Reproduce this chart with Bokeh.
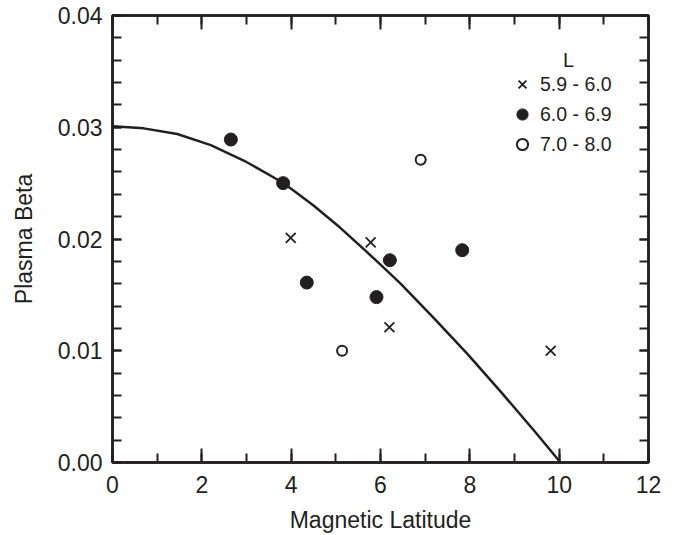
from bokeh.plotting import figure
from bokeh.models import (Range1d, LinearAxis, SingleIntervalTicker, NumeralTickFormatter,
                          Legend, LegendItem, Label)
from bokeh.embed import file_html
from bokeh.resources import INLINE

# ---- data ----
x_low = [3.99, 5.78, 6.20, 9.81]          # L 5.9 - 6.0
y_low = [0.0201, 0.0197, 0.0121, 0.0100]
x_mid = [2.65, 3.82, 4.35, 5.91, 6.21, 7.83]   # L 6.0 - 6.9
y_mid = [0.0289, 0.0250, 0.0161, 0.0148, 0.0181, 0.0190]
x_high = [5.14, 6.90]                     # L 7.0 - 8.0
y_high = [0.0100, 0.0271]

curve_x = [0.0, 0.7, 1.45, 2.2, 2.95, 3.7, 4.0, 4.5, 5.1, 5.65, 6.0, 6.45, 7.2, 7.95, 8.7, 9.45, 10.03]
curve_y = [0.0301, 0.0299, 0.0294, 0.0284, 0.0270, 0.0253, 0.0245, 0.0230, 0.0210, 0.0190,
           0.0177, 0.0160, 0.0129, 0.0097, 0.0063, 0.0028, 0.0]

labels = ["5.9 - 6.0", "6.0 - 6.9", "7.0 - 8.0"]
legend_title = "L"

INK = "#231f20"
FONT = "Liberation Sans"
FS = "23px"
LFS = "19.5px"

p = figure(width=675, height=535, output_backend="svg", toolbar_location=None,
           x_range=Range1d(0, 12), y_range=Range1d(0, 0.04),
           min_border_left=112, min_border_right=27, min_border_top=15, min_border_bottom=71,
           x_axis_label="Magnetic Latitude", y_axis_label="Plasma Beta")
p.grid.visible = False
p.outline_line_color = INK
p.outline_line_width = 2.5
p.background_fill_color = "white"
p.border_fill_color = "white"

xt = SingleIntervalTicker(interval=2, num_minor_ticks=2)
yt = SingleIntervalTicker(interval=0.01, num_minor_ticks=5)

def style_axis(ax, is_x, show_labels):
    ax.ticker = xt if is_x else yt
    ax.axis_line_color = INK
    ax.axis_line_width = 2.5
    ax.major_tick_line_color = INK
    ax.minor_tick_line_color = INK
    ax.major_tick_line_width = 2
    ax.minor_tick_line_width = 2
    ax.major_tick_out = 0
    ax.minor_tick_out = 0
    if is_x:
        ax.major_tick_in = 14
        ax.minor_tick_in = 9
    else:
        ax.major_tick_in = 9
        ax.minor_tick_in = 9
    ax.major_label_text_font = FONT
    ax.axis_label_text_font = FONT
    ax.axis_label_text_font_style = "normal"
    ax.axis_label_text_color = INK
    ax.axis_label_text_font_size = FS
    if show_labels:
        ax.major_label_text_font_size = FS
        ax.major_label_text_color = INK
    else:
        ax.major_label_text_font_size = "1px"
        ax.major_label_text_color = None
        ax.major_label_standoff = 0

style_axis(p.xaxis[0], True, True)
style_axis(p.yaxis[0], False, True)
p.xaxis[0].major_label_standoff = 13
p.xaxis[0].axis_label_standoff = 11
p.yaxis[0].major_label_standoff = 10
p.yaxis[0].axis_label_standoff = 18
p.yaxis[0].formatter = NumeralTickFormatter(format="0.00")

top_ax = LinearAxis()
style_axis(top_ax, True, False)
p.add_layout(top_ax, "above")
right_ax = LinearAxis()
style_axis(right_ax, False, False)
p.add_layout(right_ax, "right")

p.line(curve_x, curve_y, line_color=INK, line_width=2.5)

r_low = p.scatter(x_low, y_low, marker="x", size=14, line_color=INK, line_width=1.8)
r_mid = p.scatter(x_mid, y_mid, marker="circle", size=13, fill_color=INK, line_color=INK)
r_high = p.scatter(x_high, y_high, marker="circle", size=10, fill_color="white",
                   line_color=INK, line_width=2)

legend = Legend(items=[LegendItem(label=labels[0], renderers=[r_low]),
                       LegendItem(label=labels[1], renderers=[r_mid]),
                       LegendItem(label=labels[2], renderers=[r_high])],
                location=(396, 303), border_line_color=None, background_fill_alpha=0,
                label_text_font=FONT, label_text_font_size=LFS, label_text_color=INK,
                glyph_width=28, glyph_height=30, label_height=30, spacing=0,
                padding=0, margin=0, label_standoff=4)
p.add_layout(legend, "center")

p.add_layout(Label(x=10.21, y=0.0360, text=legend_title, text_font=FONT, text_font_size="20px",
                   text_color=INK, text_align="center", text_baseline="middle"))

open("out.html", "w").write(file_html(p, INLINE))
